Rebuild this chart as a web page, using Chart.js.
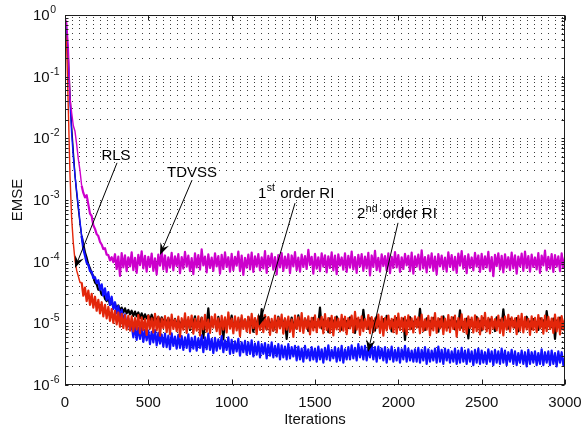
<!DOCTYPE html>
<html>
<head>
<meta charset="utf-8">
<script src="https://cdn.jsdelivr.net/npm/chart.js@4.4.1/dist/chart.umd.min.js"></script>
<style>
html,body{margin:0;padding:0;background:#fff;}
#wrap{width:583px;height:430px;position:relative;}
</style>
</head>
<body>
<div id="wrap"><canvas id="emseChart"></canvas></div>
<script>
// one sample every 10 iterations, 0..3000
var iterations = [];
for (var k = 0; k <= 3000; k += 10) iterations.push(k);

var xTicks = [0, 500, 1000, 1500, 2000, 2500, 3000];
var yDecades = [-6, -5, -4, -3, -2, -1, 0];
var yMantissas = [1, 2, 3, 4, 5, 6, 7, 8, 9];

var tdvss = [
  0.9, 0.75, 0.3, 0.045, 0.026, 0.016, 0.013, 0.008, 0.0046, 0.003,
  0.0017, 0.0013, 0.0011, 0.0012, 0.00085, 0.0006, 0.00055, 0.00039, 0.00034, 0.00028,
  0.00026, 0.00021, 0.00019, 0.00016, 0.000165, 0.00013, 0.000128, 0.000105, 0.000118, 0.000098,
  1.32e-4, 7.6e-5, 1.21e-4, 5.9e-5, 1.38e-4, 8.1e-5, 1.27e-4, 7.0e-5, 1.18e-4, 8.4e-5,
  1.41e-4, 7.3e-5, 1.15e-4, 6.6e-5, 1.29e-4, 8.8e-5, 1.47e-4, 7.8e-5, 1.24e-4, 6.9e-5,
  1.2e-4, 8.2e-5, 1.35e-4, 7.1e-5, 1.13e-4, 6.2e-5, 1.3e-4, 8.6e-5, 1.52e-4, 7.5e-5,
  1.26e-4, 6.8e-5, 1.17e-4, 8.0e-5, 1.39e-4, 7.2e-5, 1.22e-4, 8.5e-5, 1.33e-4, 6.5e-5,
  1.19e-4, 7.7e-5, 1.44e-4, 8.3e-5, 1.25e-4, 7.0e-5, 1.14e-4, 6.3e-5, 1.36e-4, 8.1e-5,
  1.28e-4, 7.4e-5, 1.58e-4, 8.7e-5, 1.21e-4, 6.7e-5, 1.31e-4, 7.9e-5, 1.16e-4, 7.1e-5,
  1.37e-4, 8.4e-5, 1.23e-4, 6.4e-5, 1.29e-4, 7.6e-5, 1.42e-4, 8.2e-5, 1.18e-4, 6.9e-5,
  1.34e-4, 7.3e-5, 1.2e-4, 8.6e-5, 1.46e-4, 7.0e-5, 1.25e-4, 6.1e-5, 1.15e-4, 8.0e-5,
  1.3e-4, 7.5e-5, 1.4e-4, 6.8e-5, 1.22e-4, 8.3e-5, 1.33e-4, 7.2e-5, 1.17e-4, 7.8e-5,
  1.49e-4, 6.6e-5, 1.24e-4, 8.5e-5, 1.35e-4, 7.4e-5, 1.19e-4, 6.2e-5, 1.28e-4, 8.1e-5,
  1.38e-4, 7.1e-5, 1.21e-4, 7.9e-5, 1.32e-4, 6.5e-5, 1.26e-4, 8.4e-5, 1.43e-4, 7.3e-5,
  1.16e-4, 6.9e-5, 1.3e-4, 8.2e-5, 1.23e-4, 7.6e-5, 1.55e-4, 8.8e-5, 1.2e-4, 6.4e-5,
  1.34e-4, 7.7e-5, 1.18e-4, 7.0e-5, 1.37e-4, 8.3e-5, 1.27e-4, 6.7e-5, 1.22e-4, 7.9e-5,
  1.41e-4, 7.2e-5, 1.25e-4, 6.3e-5, 1.31e-4, 8.6e-5, 1.17e-4, 7.4e-5, 1.36e-4, 6.8e-5,
  1.24e-4, 8.0e-5, 1.45e-4, 7.5e-5, 1.19e-4, 6.6e-5, 1.29e-4, 8.4e-5, 1.33e-4, 7.1e-5,
  1.21e-4, 7.8e-5, 1.39e-4, 6.0e-5, 1.26e-4, 8.2e-5, 1.5e-4, 7.3e-5, 1.15e-4, 6.9e-5,
  1.32e-4, 8.5e-5, 1.23e-4, 7.2e-5, 1.37e-4, 6.5e-5, 1.2e-4, 7.9e-5, 1.43e-4, 8.1e-5,
  1.28e-4, 6.8e-5, 1.18e-4, 7.6e-5, 1.34e-4, 8.7e-5, 1.24e-4, 7.0e-5, 1.4e-4, 6.4e-5,
  1.22e-4, 8.3e-5, 1.3e-4, 7.4e-5, 1.53e-4, 7.8e-5, 1.19e-4, 6.7e-5, 1.27e-4, 8.0e-5,
  1.36e-4, 7.1e-5, 1.21e-4, 6.2e-5, 1.33e-4, 8.4e-5, 1.25e-4, 7.5e-5, 1.16e-4, 6.9e-5,
  1.42e-4, 8.2e-5, 1.28e-4, 7.3e-5, 1.2e-4, 6.6e-5, 1.35e-4, 8.6e-5, 1.48e-4, 7.7e-5,
  1.23e-4, 6.5e-5, 1.31e-4, 7.9e-5, 1.17e-4, 7.2e-5, 1.39e-4, 8.3e-5, 1.26e-4, 6.8e-5,
  1.34e-4, 7.6e-5, 1.22e-4, 8.1e-5, 1.44e-4, 7.0e-5, 1.19e-4, 5.8e-5, 1.29e-4, 8.5e-5,
  1.37e-4, 7.4e-5, 1.24e-4, 6.7e-5, 1.32e-4, 8.0e-5, 1.18e-4, 7.3e-5, 1.4e-4, 7.8e-5,
  1.27e-4, 6.4e-5, 1.21e-4, 8.4e-5, 1.35e-4, 7.1e-5, 1.46e-4, 7.9e-5, 1.23e-4, 6.9e-5,
  1.3e-4, 8.2e-5, 1.17e-4, 7.5e-5, 1.38e-4, 6.6e-5, 1.25e-4, 8.7e-5, 1.51e-4, 7.2e-5,
  1.2e-4, 7.7e-5, 1.33e-4, 6.8e-5, 1.28e-4, 8.3e-5, 1.22e-4, 7.0e-5, 1.36e-4, 7.9e-5, 1.18e-4
];

var rls = [
  0.9, 0.5, 0.2, 0.05, 0.015, 6.0e-3, 2.5e-3, 1.3e-3, 7.2e-4, 4.2e-4,
  2.6e-4, 1.9e-4, 1.4e-4, 1.15e-4, 9.0e-5, 7.8e-5, 6.4e-5, 5.9e-5, 4.6e-5, 4.3e-5,
  3.5e-5, 3.6e-5, 2.9e-5, 3.1e-5, 2.5e-5, 2.3e-5, 2.6e-5, 2.0e-5, 2.3e-5, 1.85e-5,
  2.1e-5, 1.7e-5, 1.95e-5, 1.6e-5, 1.8e-5, 1.5e-5, 1.75e-5, 1.45e-5, 1.65e-5, 1.4e-5,
  1.6e-5, 1.32e-5, 1.55e-5, 1.3e-5, 1.5e-5, 1.22e-5, 1.45e-5, 1.18e-5, 1.4e-5, 1.2e-5,
  1.35e-5, 1.12e-5, 1.38e-5, 1.1e-5, 1.3e-5, 1.06e-5, 1.28e-5, 1.02e-5, 1.25e-5, 1.05e-5,
  1.2e-5, 9.8e-6, 1.22e-5, 9.6e-6, 1.15e-5, 1.0e-5, 1.18e-5, 9.4e-6, 1.12e-5, 9.9e-6,
  1.05e-5, 8.6e-6, 1.2e-5, 9.3e-6, 1.12e-5, 7.8e-6, 1.17e-5, 9.9e-6, 1.3e-5, 8.8e-6,
  1.08e-5, 9.5e-6, 1.24e-5, 5.8e-6, 1.1e-5, 9.1e-6, 1.75e-5, 8.4e-6, 1.02e-5, 9.7e-6,
  1.15e-5, 8.1e-6, 1.27e-5, 9.4e-6, 1.06e-5, 5.5e-6, 1.19e-5, 8.9e-6, 1.11e-5, 9.6e-6,
  1.33e-5, 8.5e-6, 1.04e-5, 9.2e-6, 1.16e-5, 7.7e-6, 1.22e-5, 9.8e-6, 1.07e-5, 8.3e-6,
  1.26e-5, 9.0e-6, 1.13e-5, 7.3e-6, 1.18e-5, 9.4e-6, 1.03e-5, 8.7e-6, 1.7e-5, 9.1e-6,
  1.09e-5, 8.0e-6, 1.21e-5, 9.5e-6, 1.05e-5, 7.6e-6, 1.14e-5, 9.2e-6, 1.28e-5, 8.6e-6,
  1.01e-5, 9.7e-6, 1.17e-5, 5.6e-6, 1.1e-5, 8.9e-6, 1.24e-5, 9.3e-6, 1.06e-5, 8.2e-6,
  1.35e-5, 9.0e-6, 1.12e-5, 8.5e-6, 1.19e-5, 9.6e-6, 7.5e-6, 1.08e-5, 9.4e-6, 1.23e-5,
  8.7e-6, 1.04e-5, 9.8e-6, 1.8e-5, 8.3e-6, 1.15e-5, 9.1e-6, 1.07e-5, 7.2e-6, 1.2e-5,
  9.5e-6, 1.11e-5, 8.8e-6, 1.29e-5, 9.2e-6, 1.03e-5, 7.9e-6, 1.16e-5, 9.7e-6, 1.09e-5,
  8.4e-6, 1.25e-5, 9.3e-6, 1.06e-5, 7.0e-6, 1.18e-5, 9.0e-6, 1.13e-5, 8.6e-6, 1.65e-5,
  9.6e-6, 1.02e-5, 8.1e-6, 1.21e-5, 9.4e-6, 1.1e-5, 7.6e-6, 1.27e-5, 8.9e-6, 1.05e-5,
  9.2e-6, 1.17e-5, 8.5e-6, 1.32e-5, 9.8e-6, 1.08e-5, 7.4e-6, 1.14e-5, 9.1e-6, 1.22e-5,
  8.7e-6, 1.04e-5, 9.5e-6, 1.19e-5, 5.4e-6, 1.11e-5, 9.3e-6, 1.26e-5, 8.2e-6, 1.07e-5,
  9.9e-6, 1.15e-5, 8.8e-6, 1.72e-5, 9.0e-6, 1.03e-5, 7.8e-6, 1.2e-5, 9.6e-6, 1.1e-5,
  8.3e-6, 1.23e-5, 9.2e-6, 1.06e-5, 7.3e-6, 1.17e-5, 8.9e-6, 1.3e-5, 9.4e-6, 1.01e-5,
  8.6e-6, 1.12e-5, 9.7e-6, 1.24e-5, 8.0e-6, 1.08e-5, 9.1e-6, 1.62e-5, 8.5e-6, 1.05e-5,
  9.3e-6, 1.19e-5, 5.7e-6, 1.14e-5, 9.6e-6, 1.02e-5, 8.7e-6, 1.27e-5, 9.0e-6, 1.1e-5,
  7.7e-6, 1.21e-5, 9.4e-6, 1.07e-5, 8.4e-6, 1.16e-5, 9.8e-6, 1.04e-5, 7.5e-6, 1.25e-5,
  9.1e-6, 1.13e-5, 8.8e-6, 1.68e-5, 9.5e-6, 1.06e-5, 8.2e-6, 1.18e-5, 9.3e-6, 1.09e-5,
  8.6e-6, 1.22e-5, 7.4e-6, 1.15e-5, 9.7e-6, 1.03e-5, 8.9e-6, 1.28e-5, 9.2e-6, 1.08e-5,
  8.1e-6, 1.17e-5, 9.5e-6, 1.05e-5, 7.8e-6, 1.2e-5, 9.0e-6, 1.12e-5, 8.5e-6, 1.58e-5,
  9.4e-6, 1.04e-5, 8.7e-6, 1.19e-5, 5.6e-6, 1.11e-5, 9.6e-6, 1.24e-5, 8.3e-6, 1.06e-5, 9.8e-6
];

var ri1 = [
  0.7, 0.3, 0.03, 2.5e-3, 5.0e-4, 2.0e-4, 1.05e-4, 7.2e-5, 5.8e-5, 4.6e-5,
  4.6e-5, 2.8e-5, 3.8e-5, 2.3e-5, 3.4e-5, 2.0e-5, 3.0e-5, 1.8e-5, 2.7e-5, 1.6e-5,
  2.4e-5, 1.45e-5, 2.2e-5, 1.3e-5, 2.0e-5, 1.2e-5, 1.85e-5, 1.1e-5, 1.7e-5, 1.02e-5,
  1.6e-5, 9.6e-6, 1.5e-5, 8.8e-6, 1.42e-5, 8.4e-6, 1.36e-5, 7.9e-6, 1.32e-5, 7.6e-6,
  1.3e-5, 7.4e-6, 1.22e-5, 8.0e-6, 1.36e-5, 6.9e-6, 1.25e-5, 7.8e-6, 1.17e-5, 6.5e-6,
  1.33e-5, 8.2e-6, 1.2e-5, 7.1e-6, 1.42e-5, 7.7e-6, 1.27e-5, 6.3e-6, 1.19e-5, 8.4e-6,
  1.31e-5, 7.2e-6, 1.24e-5, 6.7e-6, 1.38e-5, 8.1e-6, 1.16e-5, 7.5e-6, 1.29e-5, 6.1e-6,
  1.21e-5, 7.9e-6, 1.45e-5, 7.0e-6, 1.26e-5, 8.3e-6, 1.34e-5, 6.8e-6, 1.18e-5, 7.6e-6,
  1.3e-5, 6.4e-6, 1.23e-5, 8.0e-6, 1.37e-5, 7.3e-6, 1.15e-5, 7.0e-6, 1.28e-5, 8.5e-6,
  1.4e-5, 7.5e-6, 1.2e-5, 6.6e-6, 1.32e-5, 7.9e-6, 1.25e-5, 7.1e-6, 1.5e-5, 8.2e-6,
  1.19e-5, 6.9e-6, 1.3e-5, 7.7e-6, 1.24e-5, 6.2e-6, 1.35e-5, 8.1e-6, 1.17e-5, 7.4e-6,
  1.28e-5, 7.0e-6, 1.43e-5, 8.4e-6, 1.22e-5, 6.7e-6, 1.31e-5, 7.8e-6, 1.2e-5, 7.2e-6,
  1.36e-5, 8.0e-6, 1.26e-5, 6.5e-6, 1.18e-5, 7.6e-6, 1.33e-5, 7.1e-6, 1.24e-5, 8.3e-6,
  1.39e-5, 6.8e-6, 1.21e-5, 7.9e-6, 1.29e-5, 7.3e-6, 1.16e-5, 6.0e-6, 1.34e-5, 8.1e-6,
  1.25e-5, 7.5e-6, 1.47e-5, 7.0e-6, 1.2e-5, 8.2e-6, 1.3e-5, 6.6e-6, 1.23e-5, 7.7e-6,
  1.35e-5, 7.2e-6, 1.18e-5, 8.5e-6, 1.27e-5, 6.9e-6, 1.41e-5, 7.8e-6, 1.22e-5, 7.0e-6,
  1.32e-5, 6.4e-6, 1.25e-5, 8.0e-6, 1.19e-5, 7.4e-6, 1.37e-5, 7.6e-6, 1.28e-5, 6.7e-6,
  1.21e-5, 8.3e-6, 1.33e-5, 7.1e-6, 1.53e-5, 7.9e-6, 1.24e-5, 6.5e-6, 1.3e-5, 7.5e-6,
  1.17e-5, 8.1e-6, 1.36e-5, 6.9e-6, 1.26e-5, 7.3e-6, 1.2e-5, 8.4e-6, 1.39e-5, 7.0e-6,
  1.29e-5, 6.3e-6, 1.22e-5, 7.7e-6, 1.34e-5, 8.2e-6, 1.18e-5, 7.2e-6, 1.31e-5, 6.8e-6,
  1.44e-5, 7.8e-6, 1.23e-5, 7.4e-6, 1.27e-5, 6.6e-6, 1.35e-5, 8.0e-6, 1.2e-5, 7.1e-6,
  1.3e-5, 8.5e-6, 1.25e-5, 6.9e-6, 1.38e-5, 7.5e-6, 1.16e-5, 7.9e-6, 1.32e-5, 6.4e-6,
  1.24e-5, 7.7e-6, 1.46e-5, 7.0e-6, 1.21e-5, 8.3e-6, 1.28e-5, 6.7e-6, 1.19e-5, 7.6e-6,
  1.36e-5, 7.2e-6, 1.26e-5, 8.1e-6, 1.33e-5, 6.1e-6, 1.22e-5, 7.8e-6, 1.4e-5, 7.3e-6,
  1.18e-5, 6.8e-6, 1.3e-5, 8.4e-6, 1.24e-5, 7.1e-6, 1.35e-5, 7.5e-6, 1.2e-5, 6.6e-6,
  1.31e-5, 8.0e-6, 1.48e-5, 7.4e-6, 1.23e-5, 6.9e-6, 1.27e-5, 8.2e-6, 1.17e-5, 7.7e-6,
  1.34e-5, 7.0e-6, 1.21e-5, 6.4e-6, 1.29e-5, 7.9e-6, 1.37e-5, 7.3e-6, 1.25e-5, 8.5e-6,
  1.2e-5, 6.7e-6, 1.32e-5, 7.6e-6, 1.42e-5, 7.1e-6, 1.26e-5, 8.0e-6, 1.18e-5, 6.5e-6,
  1.3e-5, 7.8e-6, 1.23e-5, 7.2e-6, 1.36e-5, 8.3e-6, 1.22e-5, 6.8e-6, 1.33e-5, 7.5e-6,
  1.27e-5, 8.1e-6, 1.19e-5, 7.0e-6, 1.39e-5, 7.4e-6, 1.24e-5, 6.6e-6, 1.31e-5, 7.9e-6, 1.21e-5
];

var ri2 = [
  0.9, 0.5, 0.15, 0.04, 0.012, 5.0e-3, 2.5e-3, 1.4e-3, 8.0e-4, 4.5e-4,
  2.6e-4, 1.6e-4, 1.25e-4, 9.6e-5, 8.9e-5, 7.0e-5, 6.9e-5, 5.4e-5, 5.6e-5, 4.5e-5,
  5.0e-5, 3.5e-5, 4.3e-5, 2.8e-5, 3.7e-5, 2.4e-5, 3.2e-5, 2.0e-5, 2.7e-5, 1.7e-5,
  2.2e-5, 1.45e-5, 1.9e-5, 1.2e-5, 1.65e-5, 1.05e-5, 1.4e-5, 9.0e-6, 1.2e-5, 7.9e-6,
  9.4e-6, 5.9e-6, 9.0e-6, 5.4e-6, 8.5e-6, 5.6e-6, 8.6e-6, 5.0e-6, 7.9e-6, 5.3e-6,
  7.6e-6, 4.6e-6, 7.3e-6, 4.9e-6, 7.8e-6, 4.4e-6, 7.0e-6, 4.7e-6, 6.6e-6, 4.2e-6,
  6.8e-6, 4.1e-6, 6.3e-6, 3.8e-6, 6.9e-6, 4.3e-6, 6.1e-6, 3.9e-6, 6.5e-6, 4.0e-6,
  6.2e-6, 3.7e-6, 5.9e-6, 4.0e-6, 6.6e-6, 3.5e-6, 5.8e-6, 3.9e-6, 6.1e-6, 3.6e-6,
  5.7e-6, 4.0e-6, 6.4e-6, 3.4e-6, 5.9e-6, 3.8e-6, 6.8e-6, 3.7e-6, 5.6e-6, 3.3e-6,
  5.8e-6, 3.6e-6, 5.5e-6, 3.9e-6, 6.2e-6, 3.4e-6, 5.3e-6, 3.7e-6, 5.9e-6, 3.2e-6,
  5.4e-6, 3.3e-6, 5.1e-6, 3.5e-6, 5.6e-6, 3.0e-6, 4.9e-6, 3.4e-6, 5.2e-6, 3.1e-6,
  4.9e-6, 3.2e-6, 5.3e-6, 2.9e-6, 4.7e-6, 3.1e-6, 5.0e-6, 2.8e-6, 4.6e-6, 3.2e-6,
  4.8e-6, 2.7e-6, 4.5e-6, 3.0e-6, 4.9e-6, 2.8e-6, 4.3e-6, 2.9e-6, 4.6e-6, 2.6e-6,
  4.4e-6, 2.8e-6, 4.2e-6, 2.6e-6, 4.6e-6, 2.7e-6, 4.1e-6, 2.9e-6, 4.3e-6, 2.5e-6,
  4.2e-6, 2.6e-6, 3.9e-6, 2.4e-6, 4.3e-6, 2.7e-6, 3.8e-6, 2.5e-6, 4.1e-6, 2.6e-6,
  3.9e-6, 2.4e-6, 4.2e-6, 2.6e-6, 3.8e-6, 2.3e-6, 4.0e-6, 2.6e-6, 4.4e-6, 2.5e-6,
  3.7e-6, 2.7e-6, 4.1e-6, 2.4e-6, 3.9e-6, 2.5e-6, 4.3e-6, 2.3e-6, 3.8e-6, 2.6e-6,
  4.1e-6, 2.6e-6, 4.4e-6, 2.7e-6, 4.0e-6, 2.5e-6, 4.6e-6, 2.8e-6, 4.2e-6, 2.6e-6,
  4.3e-6, 2.5e-6, 4.0e-6, 2.8e-6, 4.5e-6, 2.6e-6, 4.1e-6, 2.4e-6, 4.2e-6, 2.7e-6,
  3.9e-6, 2.5e-6, 4.1e-6, 2.3e-6, 3.8e-6, 2.6e-6, 4.2e-6, 2.4e-6, 3.7e-6, 2.5e-6,
  4.0e-6, 2.3e-6, 3.8e-6, 2.6e-6, 4.3e-6, 2.4e-6, 3.9e-6, 2.5e-6, 3.6e-6, 2.4e-6,
  3.8e-6, 2.4e-6, 4.0e-6, 2.3e-6, 3.7e-6, 2.5e-6, 4.1e-6, 2.2e-6, 3.8e-6, 2.4e-6,
  3.6e-6, 2.5e-6, 3.9e-6, 2.3e-6, 4.2e-6, 2.4e-6, 3.7e-6, 2.2e-6, 3.9e-6, 2.5e-6,
  3.7e-6, 2.3e-6, 3.5e-6, 2.4e-6, 3.9e-6, 2.2e-6, 3.6e-6, 2.3e-6, 4.0e-6, 2.4e-6,
  3.6e-6, 2.2e-6, 3.8e-6, 2.4e-6, 3.5e-6, 2.1e-6, 3.7e-6, 2.3e-6, 3.9e-6, 2.2e-6,
  3.6e-6, 2.3e-6, 3.4e-6, 2.2e-6, 3.8e-6, 2.4e-6, 3.5e-6, 2.1e-6, 3.7e-6, 2.3e-6,
  3.5e-6, 2.2e-6, 3.9e-6, 2.3e-6, 3.6e-6, 2.1e-6, 3.4e-6, 2.4e-6, 3.7e-6, 2.2e-6,
  3.5e-6, 2.1e-6, 3.3e-6, 2.3e-6, 3.6e-6, 2.2e-6, 3.4e-6, 2.0e-6, 3.7e-6, 2.2e-6,
  3.4e-6, 2.3e-6, 3.5e-6, 2.1e-6, 3.3e-6, 2.2e-6, 3.8e-6, 2.1e-6, 3.4e-6, 2.3e-6,
  3.5e-6, 2.1e-6, 3.6e-6, 2.2e-6, 3.3e-6, 2.0e-6, 3.5e-6, 2.3e-6, 3.4e-6, 2.1e-6, 2.8e-6
];

// annotation texts, anchored in data coordinates (iteration, EMSE)
var notes = [
  {text: 'RLS', sup: '', rest: '', at: [306, 4.45e-3], from: [312, 4.0e-3], to: [60, 7.9e-5]},
  {text: 'TDVSS', sup: '', rest: '', at: [762, 2.36e-3], from: [762, 2.1e-3], to: [570, 1.28e-4]},
  {text: '1', sup: 'st', rest: ' order RI', at: [1158, 1.08e-3], from: [1380, 8.9e-4], to: [1164, 9.1e-6]},
  {text: '2', sup: 'nd', rest: ' order RI', at: [1752, 5.1e-4], from: [1998, 4.26e-4], to: [1818, 3.44e-6]}
];

var yTickValues = [];
yDecades.forEach(function (e) {
  yMantissas.forEach(function (m) {
    var v = Number(m + 'e' + e);
    if (v <= 1) yTickValues.push(v);
  });
});

function pts(arr) {
  return arr.map(function (v, i) { return {x: iterations[i], y: v}; });
}

var FONT = '"Liberation Sans", Arial, sans-serif';

function arrow(ctx, x1, y1, x2, y2) {
  var dx = x2 - x1, dy = y2 - y1;
  var len = Math.sqrt(dx * dx + dy * dy);
  var ux = dx / len, uy = dy / len;
  var nx = -uy, ny = ux;
  var L = 12, W = 4.6;
  ctx.beginPath();
  ctx.moveTo(x1, y1);
  ctx.lineTo(x2 - ux * L * 0.6, y2 - uy * L * 0.6);
  ctx.stroke();
  ctx.beginPath();
  ctx.moveTo(x2, y2);
  ctx.lineTo(x2 - ux * L + nx * W, y2 - uy * L + ny * W);
  ctx.lineTo(x2 - ux * L * 0.65, y2 - uy * L * 0.65);
  ctx.lineTo(x2 - ux * L - nx * W, y2 - uy * L - ny * W);
  ctx.closePath();
  ctx.fill();
}

const frame = {
  id: 'frame',
  afterDraw(chart) {
    const {ctx, chartArea: {left, right, top, bottom}, scales: {x, y}} = chart;
    const L = Math.round(left) + 0.5, R = Math.round(right) - 0.5;
    const T = Math.round(top) + 0.5, B = Math.round(bottom) - 0.5;
    ctx.save();
    ctx.strokeStyle = '#1e1e1e';
    ctx.lineWidth = 1;
    ctx.strokeRect(L, T, R - L, B - T);

    // inward tick marks
    ctx.beginPath();
    yTickValues.forEach(function (v) {
      const py = Math.round(y.getPixelForValue(v)) + 0.5;
      const len = (String(v).charAt(0) === '1') ? 5 : 3;
      ctx.moveTo(L, py); ctx.lineTo(L + len, py);
      ctx.moveTo(R, py); ctx.lineTo(R - len, py);
    });
    xTicks.forEach(function (v) {
      const px = Math.round(x.getPixelForValue(v)) + 0.5;
      ctx.moveTo(px, B); ctx.lineTo(px, B - 5);
      ctx.moveTo(px, T); ctx.lineTo(px, T + 5);
    });
    ctx.stroke();

    ctx.fillStyle = '#111';
    // y tick labels 10^n
    yDecades.forEach(function (e) {
      const py = y.getPixelForValue(Number('1e' + e));
      ctx.font = '15px ' + FONT;
      ctx.textAlign = 'left';
      ctx.textBaseline = 'middle';
      ctx.fillText('10', 33, py + 1);
      const w = ctx.measureText('10').width;
      ctx.font = '10.5px ' + FONT;
      ctx.textBaseline = 'alphabetic';
      ctx.fillText(String(e), 33 + w + 0.5, py - 2);
    });
    // x tick labels
    ctx.font = '15px ' + FONT;
    ctx.textAlign = 'center';
    ctx.textBaseline = 'alphabetic';
    xTicks.forEach(function (v) {
      ctx.fillText(String(v), x.getPixelForValue(v), bottom + 22);
    });
    ctx.fillText('Iterations', (left + right) / 2, bottom + 39);
    ctx.save();
    ctx.translate(22, (top + bottom) / 2);
    ctx.rotate(-Math.PI / 2);
    ctx.fillText('EMSE', 0, 0);
    ctx.restore();

    // annotations with arrows
    ctx.fillStyle = '#000';
    ctx.strokeStyle = '#000';
    ctx.lineWidth = 1;
    notes.forEach(function (n) {
      const ax = x.getPixelForValue(n.at[0]), ay = y.getPixelForValue(n.at[1]);
      ctx.font = '15px ' + FONT;
      ctx.textBaseline = 'alphabetic';
      if (!n.sup) {
        ctx.textAlign = 'center';
        ctx.fillText(n.text, ax, ay);
      } else {
        ctx.textAlign = 'left';
        ctx.fillText(n.text, ax, ay);
        let cx = ax + ctx.measureText(n.text).width + 0.5;
        ctx.font = '10.5px ' + FONT;
        ctx.fillText(n.sup, cx, ay - 6.5);
        cx += ctx.measureText(n.sup).width + 1;
        ctx.font = '15px ' + FONT;
        ctx.fillText(n.rest, cx, ay);
      }
      arrow(ctx,
        x.getPixelForValue(n.from[0]), y.getPixelForValue(n.from[1]),
        x.getPixelForValue(n.to[0]), y.getPixelForValue(n.to[1]));
    });
    ctx.restore();
  }
};

// thinner stroke where the curves are still dropping steeply
var steepSegment = {
  borderWidth: function (c) { return c.p0.parsed.x < 100 ? 1.4 : undefined; }
};

var ctx = document.getElementById('emseChart').getContext('2d');
new Chart(ctx, {
  type: 'line',
  data: {
    datasets: [
      {label: 'TDVSS', data: pts(tdvss), borderColor: '#cc00cc', order: 0, segment: steepSegment},
      {label: '1st order RI', data: pts(ri1), borderColor: '#e3260a', order: 1, segment: steepSegment},
      {label: '2nd order RI', data: pts(ri2), borderColor: '#1010ff', order: 2, segment: steepSegment},
      {label: 'RLS', data: pts(rls), borderColor: '#000000', order: 3, segment: steepSegment}
    ]
  },
  options: {
    responsive: true,
    maintainAspectRatio: false,
    animation: false,
    layout: {padding: {left: 65, right: 18, top: 15, bottom: 45}},
    elements: {
      line: {borderWidth: 2.2, tension: 0, borderJoinStyle: 'round', fill: false},
      point: {radius: 0, hoverRadius: 0}
    },
    plugins: {legend: {display: false}, tooltip: {enabled: false}},
    scales: {
      x: {
        type: 'linear', min: 0, max: 3000,
        ticks: {display: false},
        grid: {display: false, drawTicks: false},
        border: {display: false}
      },
      y: {
        type: 'logarithmic', min: 1e-6, max: 1,
        afterBuildTicks: function (scale) {
          scale.ticks = yTickValues.map(function (v) { return {value: v}; });
        },
        ticks: {display: false, autoSkip: false},
        grid: {color: '#3c3c3c', lineWidth: 1, drawTicks: false},
        border: {display: false, dash: [1, 6]}
      }
    }
  },
  plugins: [frame]
});
</script>
</body>
</html>
